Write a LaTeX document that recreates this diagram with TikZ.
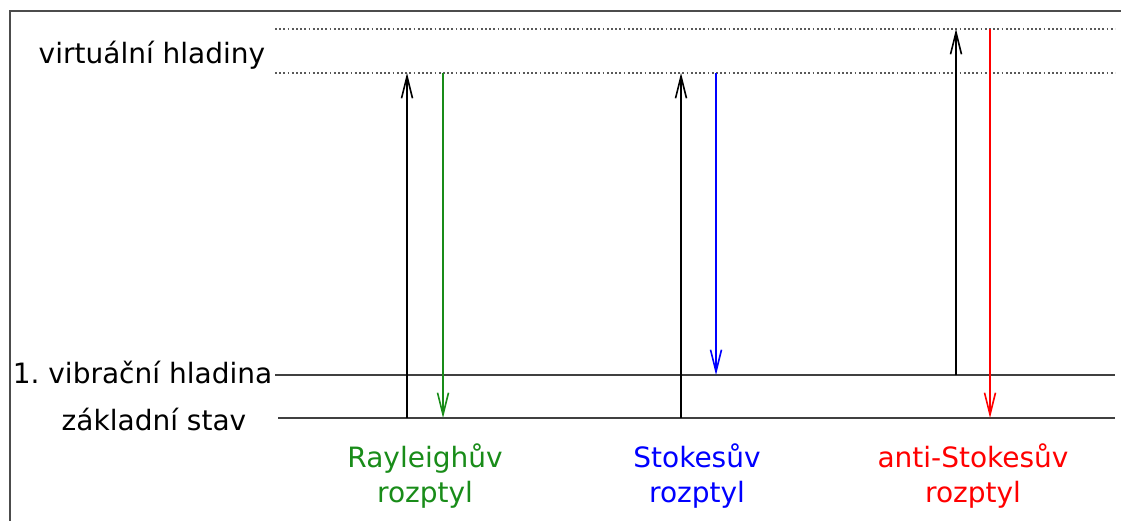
\documentclass[tikz,border=0pt]{standalone}
\usepackage{fontspec}
\setmainfont{DejaVu Sans}
\usetikzlibrary{arrows.meta,positioning}

\definecolor{raygreen}{rgb}{0.10,0.55,0.10}
\frenchspacing

\begin{document}
\begin{tikzpicture}[x=1pt,y=-1pt,>={Straight Barb[length=22pt,width=11pt]},line width=1.6pt]
\tikzstyle{level}=[draw=black!75,line width=2.5pt]
\tikzstyle{virtual}=[draw=black!65,line width=1.8pt,dash pattern=on 1.8pt off 2.4pt]
\tikzstyle{label}=[inner sep=0pt,font=\fontsize{28}{35}\selectfont]
\tikzstyle{process}=[label,align=center,anchor=base]

\useasboundingbox (0,0) rectangle (1121,520);

% frame
\coordinate (fb) at (10,522);
\coordinate (fc) at (10,11);
\coordinate (fr) at (1123,11);
\draw[black!70,line width=2.5pt] (fb) -- (fc) -- (fr);

% levels
\coordinate (v2L) at (275,29);  \coordinate (v2R) at (1115,29);
\coordinate (v1L) at (275,73);  \coordinate (v1R) at (1115,73);
\coordinate (e1L) at (275,375); \coordinate (e1R) at (1115,375);
\coordinate (g0L) at (278,418); \coordinate (g0R) at (1115,418);

\draw[virtual] (v2L) -- (v2R);
\draw[virtual] (v1L) -- (v1R);
\draw[level] (e1L) -- (e1R);
\draw[level] (g0L) -- (g0R);

\node[label,anchor=base] (virt) at (152,63) {virtuální hladiny};
\node[label,anchor=base east] (vib) at (273,383) {1. vibrační hladina};
\node[label,anchor=base] (zak) at (154,430) {základní stav};

% columns
\coordinate (rayU) at (407,0); \coordinate (rayD) at (443,0);
\coordinate (stoU) at (681,0); \coordinate (stoD) at (716,0);
\coordinate (antU) at (956,0); \coordinate (antD) at (990,0);

\draw[->,black] (rayU |- g0L) -- (rayU |- v1L);
\draw[->,raygreen] (rayD |- v1L) -- (rayD |- g0L);
\draw[->,black] (stoU |- g0L) -- (stoU |- v1L);
\draw[->,blue] (stoD |- v1L) -- (stoD |- e1L);
\draw[->,black] (antU |- e1L) -- (antU |- v2L);
\draw[->,red] (antD |- v2L) -- (antD |- g0L);

\node[process,text=raygreen] (ray) at (425,502) {Rayleighův\\rozptyl};
\node[process,text=blue] (sto) at (697,502) {Stokesův\\rozptyl};
\node[process,text=red] (ant) at (973,502) {anti-Stokesův\\rozptyl};
\end{tikzpicture}
\end{document}
